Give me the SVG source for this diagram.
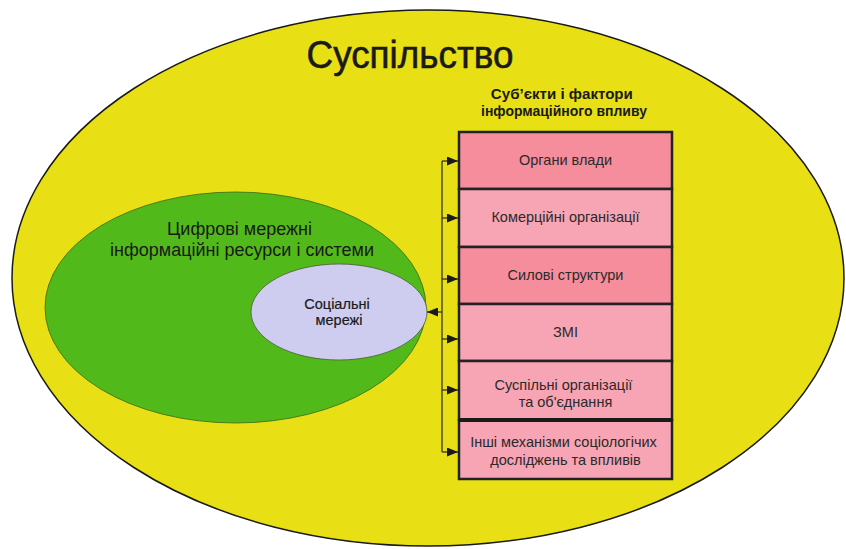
<svg xmlns="http://www.w3.org/2000/svg" width="846" height="549" viewBox="0 0 846 549">
  <style>
    .t { font-family: "Liberation Sans", Arial, sans-serif; fill: #1a1a1a; text-anchor: middle; }
    .box { stroke: #222; stroke-width: 2.5; }
    .dark { fill: #f58d9c; }
    .light { fill: #f7a4b4; }
    .lbl { font-size: 14.5px; fill: #2a2a2a; }
    .wire { fill: none; stroke: #333; stroke-width: 1.3; }
  </style>
  <defs>
    <marker id="arr" viewBox="0 0 11 9" refX="11" refY="4.5" markerWidth="11" markerHeight="9" markerUnits="userSpaceOnUse" orient="auto">
      <path d="M0,0 L11,4.5 L0,9 Z" fill="#1a1a1a"/>
    </marker>
  </defs>
  <rect width="846" height="549" fill="#ffffff"/>

  <g id="society">
    <ellipse cx="428" cy="278" rx="416" ry="268" fill="#e8e015" stroke="#1a1a1a" stroke-width="1.5"/>
    <text class="t" x="410" y="68" font-size="39" textLength="207" lengthAdjust="spacingAndGlyphs" stroke="#1a1a1a" stroke-width="0.6">Суспільство</text>
  </g>

  <g id="digital">
    <ellipse cx="235.5" cy="307.5" rx="190.5" ry="115.5" fill="#52b91a" stroke="#3a6a1a" stroke-width="0.8"/>
    <text class="t" font-size="18" fill="#222">
      <tspan x="242" y="235">Цифрові мережні</tspan>
      <tspan x="242" y="256">інформаційні ресурси і системи</tspan>
    </text>
  </g>

  <g id="social">
    <ellipse cx="339" cy="312" rx="88" ry="48" fill="#cfcdef" stroke="#4a5a3a" stroke-width="0.8"/>
    <text class="t" font-size="14.5" stroke="#1a1a1a" stroke-width="0.2">
      <tspan x="339" y="309">Соціальні</tspan>
      <tspan x="339" y="325">мережі</tspan>
    </text>
  </g>

  <g id="factors-title">
    <text class="t" font-size="15.5" font-weight="bold">
      <tspan x="564" y="99" textLength="142" lengthAdjust="spacingAndGlyphs">Суб’єкти і фактори</tspan>
      <tspan x="564" y="116" textLength="166" lengthAdjust="spacingAndGlyphs">інформаційного впливу</tspan>
    </text>
  </g>

  <g id="box1">
    <rect class="box dark" x="459" y="132" width="213" height="57"/>
    <text class="t lbl" x="565.5" y="165">Органи влади</text>
  </g>
  <g id="box2">
    <rect class="box light" x="459" y="189" width="213" height="58"/>
    <text class="t lbl" x="565.5" y="222">Комерційні організації</text>
  </g>
  <g id="box3">
    <rect class="box dark" x="459" y="247" width="213" height="57"/>
    <text class="t lbl" x="565.5" y="280">Силові структури</text>
  </g>
  <g id="box4">
    <rect class="box light" x="459" y="304" width="213" height="57"/>
    <text class="t lbl" x="565.5" y="337">ЗМІ</text>
  </g>
  <g id="box5">
    <rect class="box light" x="459" y="361" width="213" height="59"/>
    <text class="t lbl">
      <tspan x="565.5" y="390">Суспільні організації</tspan>
      <tspan x="565.5" y="407">та об'єднання</tspan>
    </text>
  </g>
  <g id="box6">
    <rect class="box light" x="459" y="420" width="213" height="59"/>
    <line x1="459" y1="420" x2="672" y2="420" stroke="#1a1a1a" stroke-width="4"/>
    <text class="t lbl">
      <tspan x="565.5" y="447">Інші механізми соціологічих</tspan>
      <tspan x="565.5" y="465">досліджень та впливів</tspan>
    </text>
  </g>

  <g id="connectors">
    <line class="wire" x1="442" y1="161" x2="442" y2="452"/>
    <line class="wire" x1="442" y1="161" x2="458" y2="161" marker-end="url(#arr)"/>
    <line class="wire" x1="442" y1="218" x2="458" y2="218" marker-end="url(#arr)"/>
    <line class="wire" x1="442" y1="279" x2="458" y2="279" marker-end="url(#arr)"/>
    <line class="wire" x1="442" y1="339" x2="458" y2="339" marker-end="url(#arr)"/>
    <line class="wire" x1="442" y1="390" x2="458" y2="390" marker-end="url(#arr)"/>
    <line class="wire" x1="442" y1="452" x2="458" y2="452" marker-end="url(#arr)"/>
    <line class="wire" x1="442" y1="312" x2="427" y2="312" marker-end="url(#arr)"/>
  </g>
</svg>
